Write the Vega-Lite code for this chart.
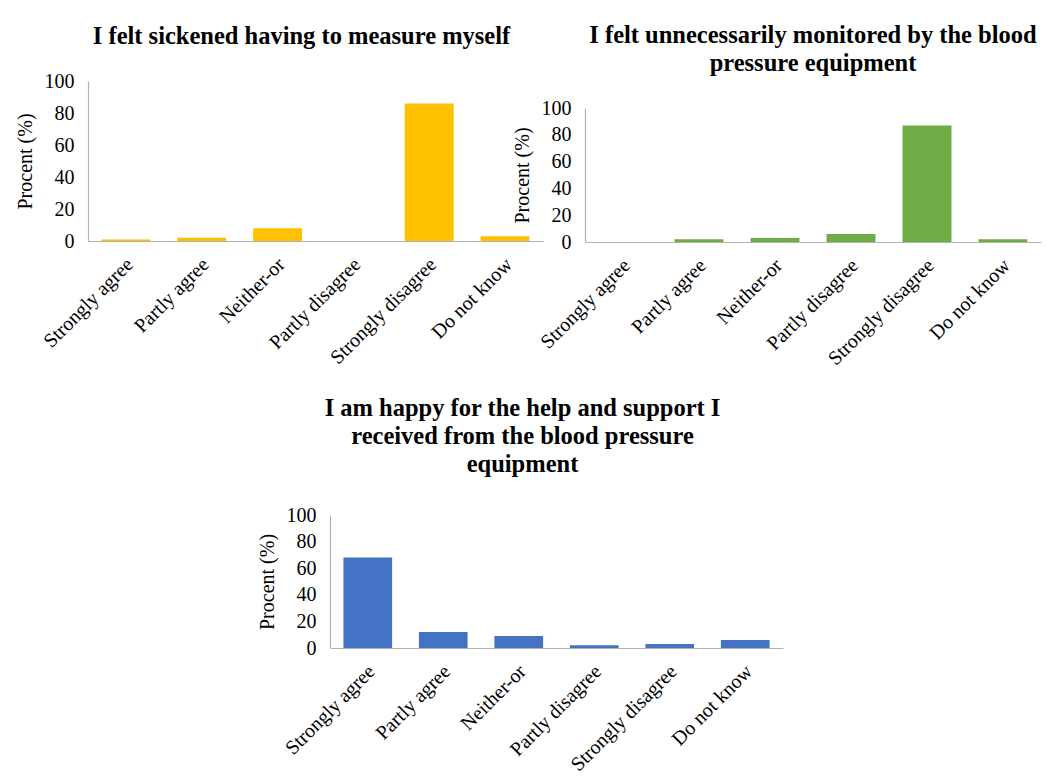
{
  "$schema": "https://vega.github.io/schema/vega-lite/v6.json",
  "background": "white",
  "padding": {"left": 15, "top": 22, "right": 5, "bottom": 5},
  "data": {
    "values": [
      {"q": "sickened", "answer": "Strongly agree", "pct": 1},
      {"q": "sickened", "answer": "Partly agree", "pct": 2},
      {"q": "sickened", "answer": "Neither-or", "pct": 8},
      {"q": "sickened", "answer": "Partly disagree", "pct": 0},
      {"q": "sickened", "answer": "Strongly disagree", "pct": 86},
      {"q": "sickened", "answer": "Do not know", "pct": 3},
      {"q": "monitored", "answer": "Strongly agree", "pct": 0},
      {"q": "monitored", "answer": "Partly agree", "pct": 2},
      {"q": "monitored", "answer": "Neither-or", "pct": 3},
      {"q": "monitored", "answer": "Partly disagree", "pct": 6},
      {"q": "monitored", "answer": "Strongly disagree", "pct": 87},
      {"q": "monitored", "answer": "Do not know", "pct": 2},
      {"q": "support", "answer": "Strongly agree", "pct": 68},
      {"q": "support", "answer": "Partly agree", "pct": 12},
      {"q": "support", "answer": "Neither-or", "pct": 9},
      {"q": "support", "answer": "Partly disagree", "pct": 2},
      {"q": "support", "answer": "Strongly disagree", "pct": 3},
      {"q": "support", "answer": "Do not know", "pct": 6}
    ]
  },
  "config": {
    "font": "Liberation Serif",
    "view": {"stroke": null},
    "axis": {
      "labelFont": "Liberation Serif",
      "titleFont": "Liberation Serif",
      "labelFontSize": 20,
      "titleFontSize": 20,
      "titleFontWeight": "normal",
      "labelColor": "#000000",
      "titleColor": "#000000",
      "domainColor": "#b3b3b3",
      "domainWidth": 1.2,
      "ticks": false,
      "grid": false
    },
    "axisX": {"labelAngle": -45, "labelPadding": 13, "labelOffset": -3, "title": null},
    "axisY": {"labelPadding": 14, "titlePadding": 9},
    "title": {
      "font": "Liberation Serif",
      "fontSize": 24.5,
      "fontWeight": "bold",
      "color": "#000000",
      "lineHeight": 28,
      "anchor": "middle",
      "frame": "group",
      "offset": 22
    }
  },
  "spacing": 26,
  "vconcat": [
    {
      "spacing": -31,
      "hconcat": [
        {
          "title": {"text": "I felt sickened having to measure myself", "dx": -14},
          "width": 455,
          "height": 160,
          "transform": [{"filter": "datum.q == 'sickened'"}],
          "mark": {"type": "bar", "color": "#FFC000"},
          "encoding": {
            "x": {
              "field": "answer",
              "type": "nominal",
              "sort": ["Strongly agree", "Partly agree", "Neither-or", "Partly disagree", "Strongly disagree", "Do not know"],
              "scale": {"paddingInner": 0.355, "paddingOuter": 0.178}
            },
            "y": {
              "field": "pct",
              "type": "quantitative",
              "scale": {"domain": [0, 100]},
              "axis": {"values": [0, 20, 40, 60, 80, 100], "title": "Procent (%)"}
            }
          }
        },
        {
          "bounds": "flush",
          "spacing": 26,
          "vconcat": [
            {
              "width": 10,
              "height": 1,
              "data": {"values": []},
              "mark": "point",
              "encoding": {}
            },
            {
              "title": {"text": ["I felt unnecessarily monitored by the blood", "pressure equipment"]},
              "width": 456,
              "height": 134,
              "transform": [{"filter": "datum.q == 'monitored'"}],
              "mark": {"type": "bar", "color": "#70AD47"},
              "encoding": {
                "x": {
                  "field": "answer",
                  "type": "nominal",
                  "sort": ["Strongly agree", "Partly agree", "Neither-or", "Partly disagree", "Strongly disagree", "Do not know"],
                  "scale": {"paddingInner": 0.355, "paddingOuter": 0.178}
                },
                "y": {
                  "field": "pct",
                  "type": "quantitative",
                  "scale": {"domain": [0, 100]},
                  "axis": {"values": [0, 20, 40, 60, 80, 100], "title": "Procent (%)"}
                }
              }
            }
          ]
        }
      ]
    },
    {
      "spacing": 0,
      "hconcat": [
        {
          "width": 169,
          "height": 10,
          "data": {"values": []},
          "mark": "point",
          "encoding": {}
        },
        {
          "title": {"text": ["I am happy for the help and support I", "received from the blood pressure", "equipment"], "dx": -34, "offset": 28},
          "width": 453,
          "height": 133,
          "transform": [{"filter": "datum.q == 'support'"}],
          "mark": {"type": "bar", "color": "#4472C4"},
          "encoding": {
            "x": {
              "field": "answer",
              "type": "nominal",
              "sort": ["Strongly agree", "Partly agree", "Neither-or", "Partly disagree", "Strongly disagree", "Do not know"],
              "scale": {"paddingInner": 0.355, "paddingOuter": 0.178}
            },
            "y": {
              "field": "pct",
              "type": "quantitative",
              "scale": {"domain": [0, 100]},
              "axis": {"values": [0, 20, 40, 60, 80, 100], "title": "Procent (%)"}
            }
          }
        }
      ]
    }
  ]
}
